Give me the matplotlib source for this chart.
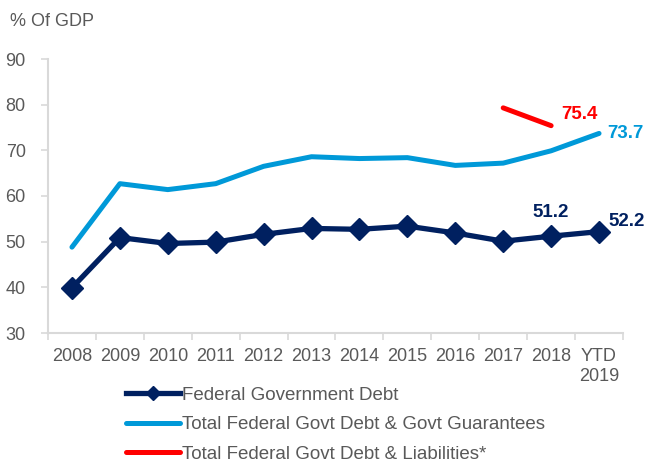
import matplotlib.pyplot as plt
import numpy as np

plt.rcParams['font.family'] = ['Liberation Sans', 'DejaVu Sans']

years = ['2008', '2009', '2010', '2011', '2012', '2013', '2014', '2015',
         '2016', '2017', '2018', 'YTD\n2019']
fed_debt = [39.9, 50.9, 49.6, 49.9, 51.6, 52.9, 52.7, 53.4, 51.9, 50.1, 51.2, 52.2]
debt_guarantees = [48.8, 62.7, 61.4, 62.7, 66.5, 68.6, 68.2, 68.4, 66.7, 67.2, 69.9, 73.7]
liab_years = ['2017', '2018']
debt_liabilities = [79.3, 75.4]

navy = '#002060'
blue = '#0099D8'
red = '#FF0000'
grey = '#595959'

fig = plt.figure(figsize=(6.47, 4.62), dpi=100)
ax = fig.add_axes([48 / 647, 1 - 333 / 462, (623 - 48) / 647, (333 - 59) / 462])

x = np.arange(len(years))
xl = [years.index(y) for y in liab_years]

ax.plot(x, debt_guarantees, color=blue, lw=3.6, solid_capstyle='round',
        label='Total Federal Govt Debt & Govt Guarantees')
ax.plot(xl, debt_liabilities, color=red, lw=3.6, solid_capstyle='round',
        label='Total Federal Govt Debt & Liabilities*')
ax.plot(x, fed_debt, color=navy, lw=3.8, marker='D', markersize=11,
        label='Federal Government Debt')

# value labels
lab = dict(fontsize=13.5, fontweight='bold')
ax.annotate('%.1f' % fed_debt[-2], (x[-2], fed_debt[-2]), xytext=(0, 11),
            textcoords='offset points', ha='center', va='bottom', color=navy, **lab)
ax.annotate('%.1f' % fed_debt[-1], (x[-1], fed_debt[-1]), xytext=(7, 1),
            textcoords='offset points', ha='left', va='bottom', color=navy, **lab)
ax.annotate('%.1f' % debt_guarantees[-1], (x[-1], debt_guarantees[-1]), xytext=(6, 0),
            textcoords='offset points', ha='left', va='center', color=blue, **lab)
ax.annotate('%.1f' % debt_liabilities[-1], (xl[-1], debt_liabilities[-1]), xytext=(7, 2),
            textcoords='offset points', ha='left', va='bottom', color=red, **lab)

ax.set_xlim(-0.5, len(years) - 0.5)
ax.set_ylim(30, 90)
ax.set_yticks(np.arange(30, 91, 10))
ax.set_xticks(x)
ax.set_xticklabels(years)
ax.set_xticks(np.arange(-0.5, len(years)), minor=True)
ax.tick_params(axis='x', which='major', length=0, pad=11, labelsize=13, colors=grey)
ax.tick_params(axis='x', which='minor', length=5, width=1.2, color='#D9D9D9')
ax.tick_params(axis='y', length=5, width=1.2, color='#D9D9D9', labelsize=13,
               labelcolor=grey, pad=11)
for s in ['top', 'right']:
    ax.spines[s].set_visible(False)
for s in ['left', 'bottom']:
    ax.spines[s].set_color('#D9D9D9')
    ax.spines[s].set_linewidth(1.5)

fig.text(10 / 647, 1 - 21 / 462, '% Of GDP', fontsize=13, color=grey, va='center')

h, l = ax.get_legend_handles_labels()
order = [2, 0, 1]
leg = fig.legend([h[i] for i in order], [l[i] for i in order], loc='upper left',
                 bbox_to_anchor=(118 / 647, 1 - 379 / 462), frameon=False,
                 fontsize=13.5, handlelength=2.9, handletextpad=0.1,
                 labelspacing=0.66, labelcolor=grey, borderaxespad=0)
for lh in leg.get_lines():
    lh.set_markersize(7)

fig.savefig('out.png', dpi=100)
